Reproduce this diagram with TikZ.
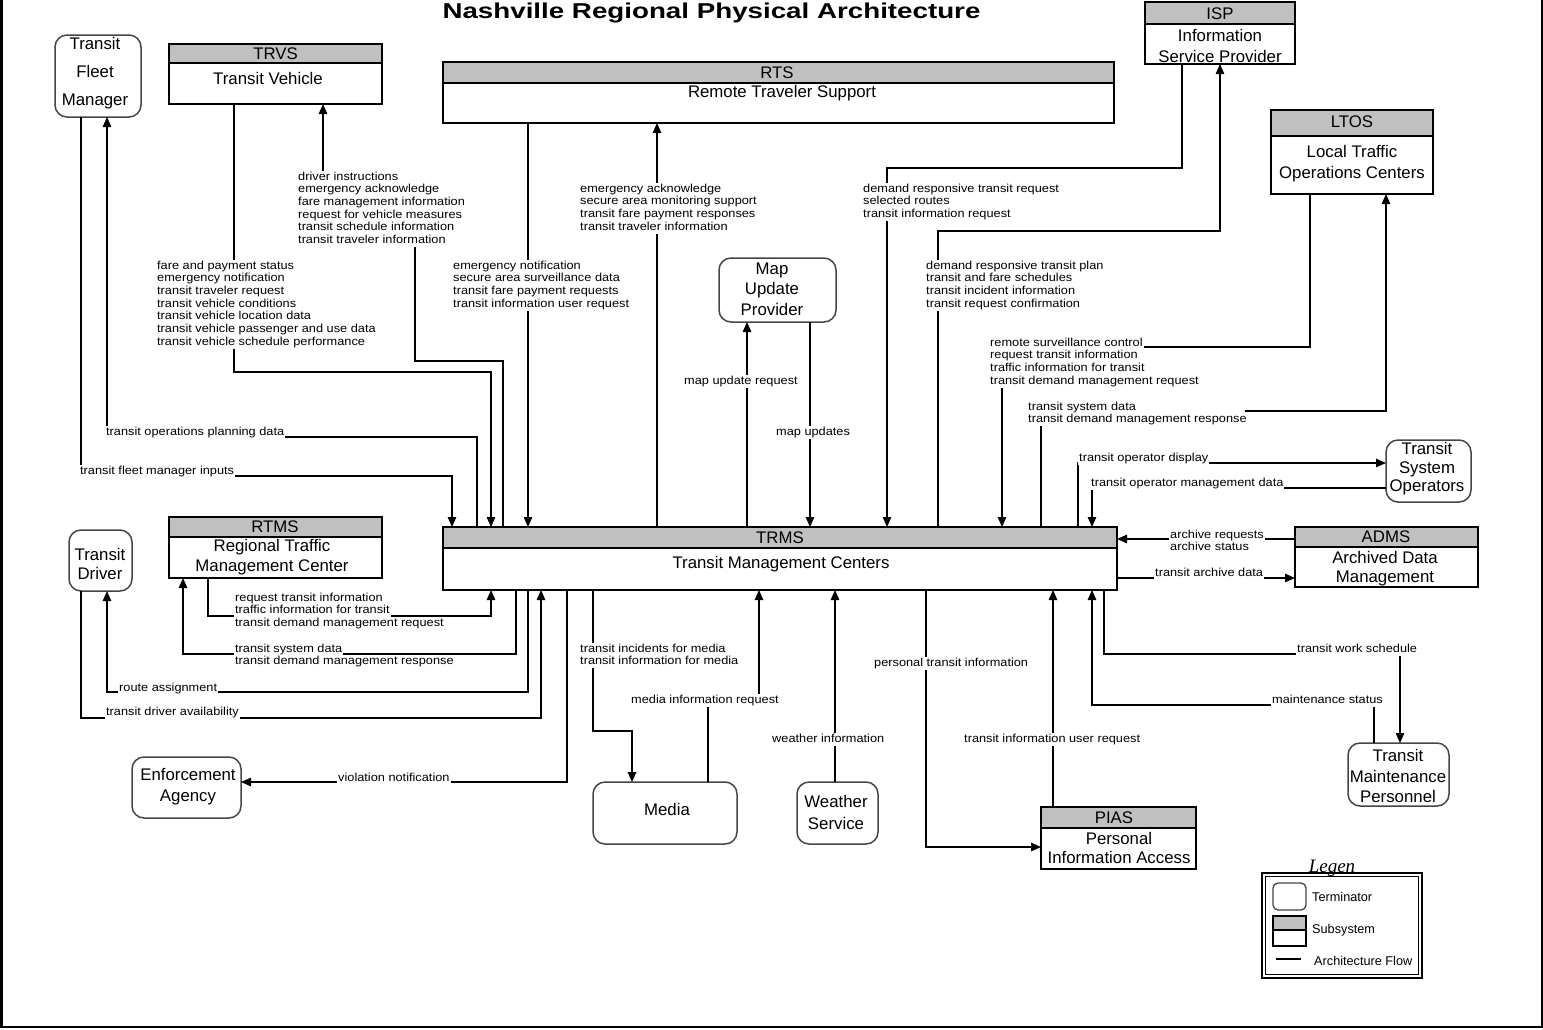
\documentclass[tikz,border=0pt]{standalone}
\usepackage{fontspec}
\setmainfont{Liberation Sans}
\newfontfamily\labfont[FakeStretch=1.1]{Liberation Sans}
\newfontfamily\titlefont[FakeStretch=1.29]{Liberation Sans}
\newfontfamily\legserif{Liberation Serif}
\usetikzlibrary{arrows.meta}
\definecolor{hdrgray}{RGB}{192,192,192}
\definecolor{termline}{RGB}{70,70,70}
\tikzset{
  flow/.style={line width=1.2pt, line join=miter},
  arr/.style={flow, -{Triangle[length=10pt,width=8.5pt]}},
  subbox/.style={rectangle, anchor=north west, inner sep=0pt, outer sep=0pt},
  term/.style={draw=termline, line width=1.5pt, fill=white, rounded corners=12pt, anchor=north west, inner sep=0pt, outer sep=0pt},
  boxtext/.style={font=\fontsize{16.8}{#1}\selectfont, align=center, inner sep=0pt},
  boxtext/.default=20,
  lab/.style={font=\labfont\fontsize{11.6}{12.7}\selectfont, anchor=west, fill=white, inner xsep=1pt, inner ysep=0.5pt, text height=9pt, text depth=3pt},
  legtext/.style={font=\fontsize{12.7}{14}\selectfont, anchor=west, inner sep=0pt},
}
\newcommand\subsys[6]{%
  \node[subbox, minimum width={#4-#2}, minimum height={#6-#3}] (#1) at (#2,#3) {};
  \fill[hdrgray] (#2,#3) rectangle (#4,#5);
  \draw[line width=1.8pt] (#2,#3) rectangle (#4,#6);
  \draw[line width=1.8pt] (#2,#5) -- (#4,#5);
}
\newcommand\flab[4][]{%
  \foreach \flabtxt [count=\flabk from 0] in {#4}{%
    \node[lab,#1,yshift={-\flabk*12.7pt}] (#2-\flabk) at (#3) {\flabtxt};
  }%
}
\begin{document}
\begin{tikzpicture}[x=1pt,y=-1pt]
\useasboundingbox (0,0) rectangle (1543,1029);
\fill[white] (0,0) rectangle (1543,1029);
\draw[line width=2.6pt] (1.5,0) -- (1.5,1027) -- (1541.8,1027) -- (1541.8,0);

% title
\node[font=\titlefont\bfseries\fontsize{21.5}{24}\selectfont, anchor=base, inner sep=0pt] (title) at (711.5,18.5) {Nashville Regional Physical Architecture};

% subsystems
\subsys{trvs}{169}{44}{382}{63}{104}
\node[boxtext] (trvs-a) at (275.5,54) {TRVS};
\node[boxtext] (trvs-b) at (268,78) {Transit Vehicle};

\subsys{rts}{443}{62}{1114}{83}{123}
\node[boxtext] (rts-a) at (777,72.5) {RTS};
\node[boxtext] (rts-b) at (782,93) {Remote Traveler Support};

\subsys{isp}{1145}{2}{1295}{24}{64}
\node[boxtext] (isp-a) at (1220,14) {ISP};
\node[boxtext=21] (isp-b) at (1220,45.5) {Information\\Service Provider};

\subsys{ltos}{1271}{110}{1433}{136}{194}
\node[boxtext] (ltos-a) at (1352,122) {LTOS};
\node[boxtext=21] (ltos-b) at (1352,163.5) {Local Traffic\\Operations Centers};

\subsys{trms}{443}{527}{1117}{548}{590}
\node[boxtext] (trms-a) at (780,537.5) {TRMS};
\node[boxtext] (trms-b) at (781,564) {Transit Management Centers};

\subsys{rtms}{169}{517}{382}{537}{578}
\node[boxtext] (rtms-a) at (275,527) {RTMS};
\node[boxtext=20] (rtms-b) at (272,557) {Regional Traffic\\Management Center};

\subsys{adms}{1295}{527}{1478}{547}{587}
\node[boxtext] (adms-a) at (1386,537) {ADMS};
\node[boxtext=19] (adms-b) at (1385,568.5) {Archived Data\\Management};

\subsys{pias}{1041}{807}{1196}{828}{869}
\node[boxtext] (pias-a) at (1114,818) {PIAS};
\node[boxtext=19] (pias-b) at (1119,847.5) {Personal\\Information Access};

% terminators
\node[term, minimum width=86, minimum height=82] (tfm) at (55,35) {};
\node[boxtext=28] (tfm-t) at (95,73) {Transit\\Fleet\\Manager};
\node[term, minimum width=117, minimum height=64] (mup) at (719,258) {};
\node[boxtext=20.5] (mup-t) at (772,289) {Map\\Update\\Provider};
\node[term, minimum width=85, minimum height=62] (tso) at (1386,440) {};
\node[boxtext=18.5] (tso-t) at (1427,469) {Transit\\System\\Operators};
\node[term, minimum width=63, minimum height=61] (td) at (69,530) {};
\node[boxtext=19] (td-t) at (100,563.5) {Transit\\Driver};
\node[term, minimum width=109, minimum height=61] (ea) at (132,757) {};
\node[boxtext=21] (ea-t) at (188,786.5) {Enforcement\\Agency};
\node[term, minimum width=144, minimum height=62] (media) at (593,782) {};
\node[boxtext] (media-t) at (667,809) {Media};
\node[term, minimum width=81, minimum height=62] (ws) at (797,782) {};
\node[boxtext=22] (ws-t) at (836,812) {Weather\\Service};
\node[term, minimum width=101, minimum height=63] (tmp) at (1348,743) {};
\node[boxtext=20.5] (tmp-t) at (1398,776) {Transit\\Maintenance\\Personnel};

% connectors
\draw[arr] (tfm.south -| 81,0) -- (81,476) -- (452,476) -- (trms.north -| 452,0);
\draw[arr] (trms.north -| 477,0) -- (477,437) -- (107,437) -- (tfm.south -| 107,0);
\draw[arr] (trvs.south -| 234,0) -- (234,372) -- (491,372) -- (trms.north -| 491,0);
\draw[arr] (trms.north -| 503,0) -- (503,361) -- (415,361) -- (415,202) -- (323,202) -- (trvs.south -| 323,0);
\draw[arr] (rts.south -| 528,0) -- (trms.north -| 528,0);
\draw[arr] (trms.north -| 657,0) -- (rts.south -| 657,0);
\draw[arr] (trms.north -| 747,0) -- (mup.south -| 747,0);
\draw[arr] (mup.south -| 810,0) -- (trms.north -| 810,0);
\draw[arr] (isp.south -| 1182,0) -- (1182,168) -- (887,168) -- (trms.north -| 887,0);
\draw[arr] (trms.north -| 938,0) -- (938,231) -- (1220,231) -- (isp.south -| 1220,0);
\draw[arr] (ltos.south -| 1310,0) -- (1310,347) -- (1002,347) -- (trms.north -| 1002,0);
\draw[arr] (trms.north -| 1041,0) -- (1041,411) -- (1386,411) -- (ltos.south -| 1386,0);
\draw[arr] (trms.north -| 1078,0) -- (1078,463) -- (tso.west |- 0,463);
\draw[arr] (tso.west |- 0,488) -- (1092,488) -- (trms.north -| 1092,0);
\draw[arr] (adms.west |- 0,539) -- (trms.east |- 0,539);
\draw[arr] (trms.east |- 0,578) -- (adms.west |- 0,578);
\draw[arr] (trms.south -| 1104,0) -- (1104,654) -- (1400,654) -- (tmp.north -| 1400,0);
\draw[arr] (tmp.north -| 1374,0) -- (1374,705) -- (1092,705) -- (trms.south -| 1092,0);
\draw[arr] (pias.north -| 1053,0) -- (trms.south -| 1053,0);
\draw[arr] (trms.south -| 926,0) -- (926,847) -- (pias.west |- 0,847);
\draw[arr] (ws.north -| 835,0) -- (trms.south -| 835,0);
\draw[arr] (media.north -| 708,0) -- (708,700) -- (759,700) -- (trms.south -| 759,0);
\draw[arr] (trms.south -| 593,0) -- (593,731) -- (632,731) -- (media.north -| 632,0);
\draw[arr] (trms.south -| 567,0) -- (567,782) -- (ea.east |- 0,782);
\draw[arr] (rtms.south -| 208,0) -- (208,616) -- (491,616) -- (trms.south -| 491,0);
\draw[arr] (trms.south -| 516,0) -- (516,654) -- (183,654) -- (rtms.south -| 183,0);
\draw[arr] (trms.south -| 528,0) -- (528,692) -- (107,692) -- (td.south -| 107,0);
\draw[arr] (td.south -| 81,0) -- (81,718) -- (541,718) -- (trms.south -| 541,0);

% labels
\flab{l1}{79,471}{transit fleet manager inputs}
\flab{l2}{105,432}{transit operations planning data}
\flab{l3}{156,266}{fare and payment status,emergency notification,transit traveler request,transit vehicle conditions,transit vehicle location data,transit vehicle passenger and use data,transit vehicle schedule performance}
\flab{l4}{297,177}{driver instructions,emergency acknowledge,fare management information,request for vehicle measures,transit schedule information,transit traveler information}
\flab{l5}{452,266}{emergency notification,secure area surveillance data,transit fare payment requests,transit information user request}
\flab{l6}{579,189}{emergency acknowledge,secure area monitoring support,transit fare payment responses,transit traveler information}
\flab{l7}{862,189}{demand responsive transit request,selected routes,transit information request}
\flab{l8}{925,266}{demand responsive transit plan,transit and fare schedules,transit incident information,transit request confirmation}
\flab{l9}{989,343}{remote surveillance control,request transit information,traffic information for transit,transit demand management request}
\node[lab, text width=216pt, align=left] (l10-0) at (1027,407) {transit system data};
\node[lab] (l10-1) at (1027,419.7) {transit demand management response};
\flab{l11}{683,381}{map update request}
\flab{l12}{775,432}{map updates}
\flab{l13}{1078,458}{transit operator display}
\flab{l14}{1090,483}{transit operator management data}
\flab{l15}{1169,535}{archive requests,archive status}
\flab{l16}{1154,573}{transit archive data}
\flab{l17}{1296,649}{transit work schedule}
\flab{l18}{1271,700}{maintenance status}
\flab{l19}{963,739}{transit information user request}
\flab{l20}{873,663}{personal transit information}
\flab{l21}{771,739}{weather information}
\flab{l22}{630,700}{media information request}
\flab{l23}{579,649}{transit incidents for media,transit information for media}
\flab{l24}{337,778}{violation notification}
\flab{l25}{234,598}{request transit information,traffic information for transit,transit demand management request}
\flab{l26}{234,649}{transit system data,transit demand management response}
\flab{l27}{118,688}{route assignment}
\flab{l28}{105,712}{transit driver availability}

% legend
\draw[line width=1.3pt] (1262,873) rectangle (1422,978);
\draw[line width=1.8pt] (1265.5,876.5) rectangle (1418.5,974.5);
\node[font=\legserif\itshape\fontsize{19}{21}\selectfont, anchor=base, inner sep=0pt] (leg-title) at (1332,872) {Legen};
\draw[termline, line width=1.3pt, rounded corners=5pt] (1273,883) rectangle (1306,910);
\fill[hdrgray] (1273,916) rectangle (1306,930);
\draw[line width=1.2pt] (1273,916) rectangle (1306,946);
\draw[line width=1.2pt] (1273,930) -- (1306,930);
\draw[flow] (1276,959) -- (1301,959);
\node[legtext] (leg-t1) at (1312,897) {Terminator};
\node[legtext] (leg-t2) at (1312,930) {Subsystem};
\node[legtext] (leg-t3) at (1314,961) {Architecture Flow};
\end{tikzpicture}
\end{document}
